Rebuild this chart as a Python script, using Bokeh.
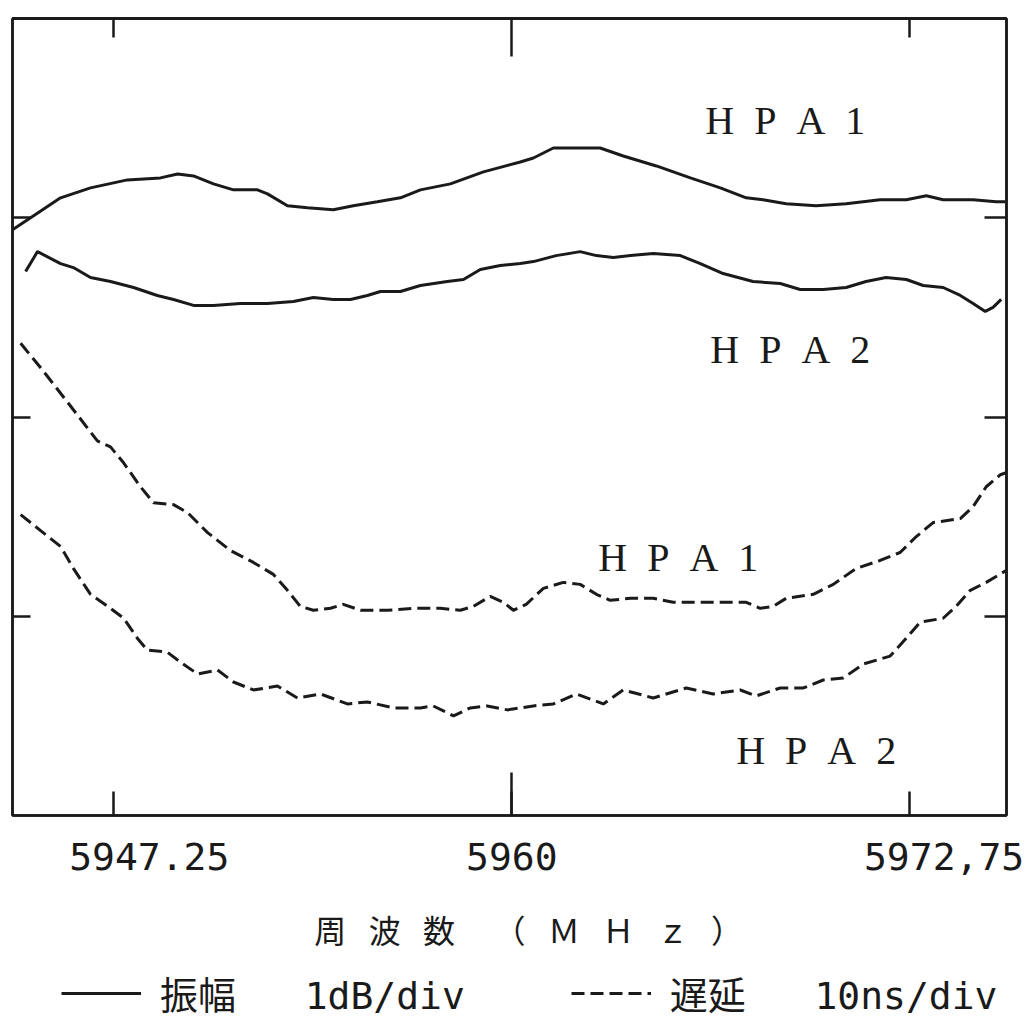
from bokeh.plotting import figure
from bokeh.layouts import column
from bokeh.models import (Range1d, LinearAxis, FixedTicker, Label, Legend, LegendItem,
                          ColumnDataSource)
from bokeh.core.properties import value
from bokeh.embed import file_html
from bokeh.resources import INLINE

# Frequency axis (MHz)
freq_ticks = [5947.25, 5960.0, 5972.75]
freq_tick_text = ["5947.25", "5960", "5972,75"]
amp_ticks = [1, 2, 3]        # 1 dB/div
delay_ticks = [10, 20, 30]   # 10 ns/div

# Amplitude response, HPA1 (dB, arbitrary reference)
amp1_freq = [5944.00, 5944.58, 5945.54, 5946.50, 5947.68, 5948.74, 5949.29, 5949.80, 5950.44, 5951.08,
             5951.85, 5952.17, 5952.81, 5953.45, 5954.28, 5954.92, 5955.69, 5956.43, 5957.07, 5958.03,
             5959.09, 5960.27, 5960.69, 5961.33, 5961.97, 5962.83, 5963.57, 5964.63, 5965.72, 5966.68,
             5967.51, 5968.05, 5968.79, 5969.75, 5970.71, 5971.80, 5972.64, 5973.28, 5973.82, 5974.78,
             5975.52, 5975.81]
amp1_db = [2.94, 3.00, 3.10, 3.15, 3.19, 3.20, 3.22, 3.21, 3.17, 3.14,
           3.14, 3.12, 3.06, 3.05, 3.04, 3.06, 3.08, 3.10, 3.14, 3.17,
           3.23, 3.28, 3.30, 3.35, 3.35, 3.35, 3.31, 3.26, 3.20, 3.15,
           3.10, 3.09, 3.07, 3.06, 3.07, 3.09, 3.09, 3.11, 3.09, 3.09,
           3.08, 3.08]

# Amplitude response, HPA2
amp2_freq = [5944.42, 5944.80, 5945.54, 5945.95, 5946.50, 5947.14, 5947.88, 5948.64, 5949.16, 5949.80,
             5950.44, 5951.30, 5952.17, 5953.00, 5953.64, 5954.28, 5954.83, 5955.37, 5955.79, 5956.43,
             5957.07, 5957.93, 5958.45, 5958.99, 5959.63, 5960.27, 5960.69, 5961.42, 5962.19, 5962.71,
             5963.25, 5963.80, 5964.53, 5965.40, 5966.04, 5966.77, 5967.73, 5968.60, 5969.24, 5969.98,
             5970.71, 5971.35, 5971.99, 5972.64, 5973.18, 5973.82, 5974.37, 5974.78, 5975.17, 5975.42,
             5975.68]
amp2_db = [2.73, 2.83, 2.77, 2.75, 2.70, 2.68, 2.65, 2.61, 2.59, 2.56,
           2.56, 2.57, 2.57, 2.58, 2.60, 2.59, 2.59, 2.61, 2.63, 2.63,
           2.66, 2.68, 2.69, 2.74, 2.76, 2.77, 2.78, 2.81, 2.83, 2.81,
           2.80, 2.81, 2.82, 2.81, 2.77, 2.72, 2.68, 2.67, 2.64, 2.64,
           2.65, 2.68, 2.70, 2.69, 2.66, 2.65, 2.61, 2.57, 2.53, 2.55,
           2.59]

# Group delay, HPA1 (ns, arbitrary reference)
dly1_freq = [5944.26, 5944.99, 5946.18, 5946.72, 5947.14, 5947.56, 5948.10, 5948.52, 5949.16, 5949.61,
             5950.25, 5950.98, 5951.72, 5952.36, 5952.81, 5953.22, 5953.64, 5954.19, 5954.60, 5955.15,
             5956.01, 5956.84, 5957.71, 5958.35, 5958.77, 5959.31, 5959.73, 5960.05, 5960.46, 5961.01,
             5961.65, 5962.19, 5962.71, 5963.15, 5963.80, 5964.53, 5965.17, 5966.04, 5967.09, 5967.51,
             5967.96, 5968.38, 5968.79, 5969.66, 5970.30, 5971.03, 5971.80, 5972.44, 5972.96, 5973.50,
             5974.37, 5974.78, 5975.20, 5975.65, 5975.84]
dly1_ns = [23.7, 22.3, 19.9, 18.8, 18.5, 17.7, 16.5, 15.7, 15.6, 15.2,
           14.2, 13.3, 12.7, 12.1, 11.3, 10.5, 10.3, 10.4, 10.6, 10.3,
           10.3, 10.4, 10.4, 10.3, 10.5, 11.0, 10.7, 10.3, 10.6, 11.4,
           11.7, 11.6, 11.1, 10.8, 10.9, 10.9, 10.7, 10.7, 10.7, 10.7,
           10.4, 10.5, 10.9, 11.1, 11.6, 12.4, 12.8, 13.2, 14.0, 14.7,
           14.9, 15.5, 16.5, 17.1, 17.2]

# Group delay, HPA2
dly2_freq = [5944.26, 5944.90, 5945.54, 5945.95, 5946.50, 5947.14, 5947.56, 5948.00, 5948.32, 5948.96,
             5949.38, 5949.93, 5950.57, 5951.08, 5951.72, 5952.49, 5953.13, 5953.87, 5954.73, 5955.37,
             5956.20, 5957.07, 5957.48, 5958.13, 5958.67, 5959.21, 5959.86, 5960.27, 5960.69, 5961.33,
             5962.07, 5962.93, 5963.57, 5964.53, 5965.59, 5966.45, 5967.32, 5967.83, 5968.60, 5969.34,
             5969.98, 5970.62, 5971.26, 5972.12, 5972.64, 5973.08, 5973.82, 5974.24, 5974.69, 5975.20,
             5975.84]
dly2_ns = [15.1, 14.3, 13.5, 12.4, 11.1, 10.4, 9.9, 8.9, 8.3, 8.2,
           7.7, 7.1, 7.3, 6.7, 6.3, 6.5, 5.9, 6.1, 5.6, 5.7,
           5.4, 5.4, 5.5, 5.0, 5.4, 5.5, 5.3, 5.4, 5.5, 5.6,
           6.1, 5.6, 6.3, 5.9, 6.4, 6.1, 6.3, 6.0, 6.4, 6.4,
           6.8, 6.9, 7.6, 8.0, 8.9, 9.7, 9.9, 10.5, 11.3, 11.7,
           12.3]

INK = "#1a1a1a"
MONO = "'DejaVu Sans Mono', 'Noto Sans CJK JP'"
SERIF = "'Liberation Serif', 'DejaVu Serif'"
GAP = "\u2002\u2009"   # wide letter spacing used in the captions
SOLID = dict(line_color=INK, line_width=3)
DASHED = dict(line_color=INK, line_width=3, line_dash="13 6")

src_a1 = ColumnDataSource(dict(f=amp1_freq, v=amp1_db))
src_a2 = ColumnDataSource(dict(f=amp2_freq, v=amp2_db))
src_d1 = ColumnDataSource(dict(f=dly1_freq, v=dly1_ns))
src_d2 = ColumnDataSource(dict(f=dly2_freq, v=dly2_ns))

p = figure(width=1033, height=962,
           x_range=Range1d(5944.0, 5975.85), y_range=Range1d(0, 4),
           output_backend="svg", toolbar_location=None,
           min_border_left=12, min_border_right=27, min_border_top=18, min_border_bottom=147,
           background_fill_color="white", border_fill_color="white")
p.extra_y_ranges = {"delay": Range1d(0, 40)}
p.grid.visible = False
p.outline_line_color = INK
p.outline_line_width = 2.5


def style_axis(ax, ticks, minor, tick_len, minor_len):
    ax.ticker = FixedTicker(ticks=ticks, minor_ticks=minor)
    ax.major_tick_in = tick_len
    ax.major_tick_out = 0
    ax.minor_tick_in = minor_len
    ax.minor_tick_out = 0
    ax.major_label_standoff = 0
    for attr in ("axis_line", "major_tick_line", "minor_tick_line"):
        setattr(ax, attr + "_color", INK)
        setattr(ax, attr + "_width", 2.5)


# bottom: frequency ticks with labels, centre tick drawn longer
xb = p.xaxis[0]
style_axis(xb, freq_ticks, [freq_ticks[1]], 24, 43)
xb.major_label_overrides = {freq_ticks[0]: "\u00a0\u00a0\u00a0" + freq_tick_text[0],
                            freq_ticks[1]: freq_tick_text[1],
                            freq_ticks[2]: "\u00a0\u00a0\u00a0" + freq_tick_text[2]}
xb.major_label_text_font = MONO
xb.major_label_text_font_size = "38px"
xb.major_label_text_color = INK
xb.major_label_standoff = 19
xb.axis_label = ("\u3000\u2009周" + GAP + "波" + GAP + "数" + GAP + "\u3000（" + GAP + "Ｍ"
                 + GAP + "Ｈ" + GAP + "ｚ" + GAP + "）")
xb.axis_label_text_font = "Noto Sans CJK JP"
xb.axis_label_text_font_size = "32px"
xb.axis_label_text_font_style = "normal"
xb.axis_label_text_color = INK
xb.axis_label_standoff = 24

# top: tick marks only (two stacked axes give the two tick lengths)
xt_side = LinearAxis()
style_axis(xt_side, [], [freq_ticks[0], freq_ticks[2]], 0, 19)
p.add_layout(xt_side, "above")
xt_mid = LinearAxis()
style_axis(xt_mid, [], [freq_ticks[1]], 0, 38)
p.add_layout(xt_mid, "above")

# left: amplitude divisions, right: delay divisions (tick marks only)
yl = p.yaxis[0]
style_axis(yl, [], amp_ticks, 0, 18)
yr = LinearAxis(y_range_name="delay")
style_axis(yr, [], delay_ticks, 0, 22)
p.add_layout(yr, "right")

# traces
p.line("f", "v", source=src_a1, **SOLID)
p.line("f", "v", source=src_a2, **SOLID)
p.line("f", "v", source=src_d1, y_range_name="delay", **DASHED)
p.line("f", "v", source=src_d2, y_range_name="delay", **DASHED)

# trace names
hpa = "H\u2002P\u2002A\u2002"
for x, y, name, rng in [(5966.20, 3.49, hpa + "1", "default"),
                        (5966.36, 2.34, hpa + "2", "default"),
                        (5962.77, 12.95, hpa + "1", "delay"),
                        (5967.19, 3.26, hpa + "2", "delay")]:
    p.add_layout(Label(x=x, y=y, y_range_name=rng, text=name, text_font=SERIF,
                       text_font_size="40px", text_color=INK,
                       text_align="left", text_baseline="alphabetic"))

# key strip under the chart (its renderers share the trace data, kept outside its view)
key = figure(width=1033, height=60, x_range=Range1d(0, 1), y_range=Range1d(0, 1),
             output_backend="svg", toolbar_location=None,
             x_axis_location=None, y_axis_location=None, min_border=0,
             background_fill_color="white", border_fill_color="white")
key.outline_line_color = None
key.grid.visible = False
k_amp = key.line("f", "v", source=src_a1, **SOLID)
k_dly = key.line("f", "v", source=src_d1, **DASHED)
key.add_layout(Legend(items=[LegendItem(label=value("振幅\u00a0\u00a0\u20091dB/div"), renderers=[k_amp]),
                             LegendItem(label=value("遅延\u00a0\u00a0\u200910ns/div"), renderers=[k_dly])],
                      location=(49, 2), orientation="horizontal",
                      glyph_width=80, glyph_height=40, label_height=40, label_standoff=19,
                      spacing=106, padding=0, margin=0,
                      label_text_font=MONO, label_text_font_size="38px", label_text_color=INK,
                      border_line_alpha=0, background_fill_alpha=0))

open("out.html", "w").write(file_html(column(p, key, spacing=0), INLINE))
